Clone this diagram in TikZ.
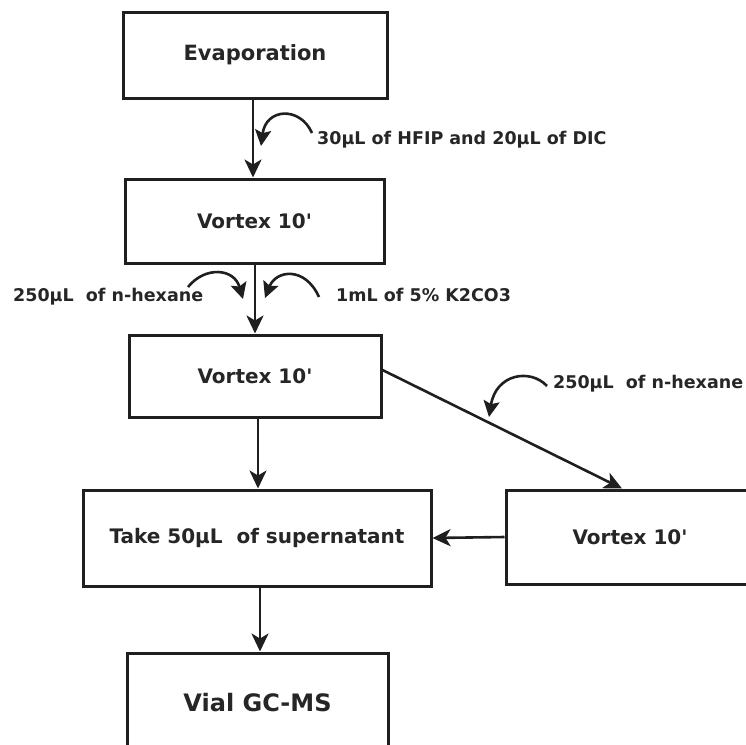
\documentclass[tikz,border=0pt]{standalone}
\usepackage{fontspec}
\setmainfont{DejaVu Sans}
\usetikzlibrary{arrows.meta}

\begin{document}
\begin{tikzpicture}[x=1pt,y=-1pt,
  ink/.style={draw=black!88},
  stepbox/.style={ink,line width=3pt,fill=white,inner sep=0pt,
    font=\fontsize{20}{24}\selectfont\bfseries,text=black!85},
  arr/.style={ink,line width=2.6pt,-{Stealth[length=18pt,width=17pt,inset=5pt]}},
  curl/.style={ink,line width=2.6pt,-{Stealth[length=16pt,width=16pt,inset=3pt]}},
  reagent/.style={inner sep=0pt,font=\fontsize{17.5}{21}\selectfont\bfseries,text=black!85}
]
\useasboundingbox (0,0) rectangle (746,744);
\clip (0,0) rectangle (746,744);

% process steps
\node[stepbox,minimum width=264pt,minimum height=86pt] (ev) at (255,55) {\fontsize{21}{25}\selectfont Evaporation};
\node[stepbox,minimum width=259pt,minimum height=84pt] (v1) at (254.5,221) {Vortex 10\textquotesingle};
\node[stepbox,minimum width=252pt,minimum height=82pt] (v2) at (255,376) {Vortex 10\textquotesingle};
\node[stepbox,minimum width=348pt,minimum height=96pt] (take) at (257,538) {Take 50µL\ \ of supernatant};
\node[stepbox,minimum width=248pt,minimum height=94pt] (v3) at (630,537) {Vortex 10\textquotesingle};
\node[stepbox,minimum width=261pt,minimum height=100pt] (vial) at (257.5,703) {\fontsize{24}{28}\selectfont Vial GC-MS};

% main flow
\draw[arr] ([xshift=-2pt]ev.south) -- ([xshift=-2pt]ev.south |- v1.north);
\draw[arr] ([xshift=0.5pt]v1.south) -- ([xshift=0.5pt]v1.south |- v2.north);
\draw[arr] ([xshift=3pt]v2.south) -- ([xshift=3pt]v2.south |- take.north);
\draw[arr] ([xshift=3pt]take.south) -- ([xshift=3pt]take.south |- vial.north);
\draw[arr] ([yshift=6pt]v2.east) -- ([xshift=-8pt]v3.north);
\draw[arr] (v3.west) -- (take.east);

% reagent additions
\node[reagent,anchor=base west] (r1) at (317,144) {30µL of HFIP and 20µL of DIC};
\node[reagent,anchor=base west] (r2) at (13,301) {250µL\ \ of n-hexane};
\node[reagent,anchor=base west] (r3) at (336,301) {1mL of 5\% K2CO3};
\node[reagent,anchor=base west] (r4) at (553,388) {250µL\ \ of n-hexane};

\coordinate (c1s) at (312,133);
\coordinate (c1e) at (261,146);
\coordinate (c2s) at (188,287);
\coordinate (c2e) at (243,299);
\coordinate (c3s) at (319,297);
\coordinate (c3e) at (265,298);
\coordinate (c4s) at (547,386);
\coordinate (c4e) at (489,417);

\draw[curl] (c1s) .. controls (300,106) and (266,108) .. (c1e);
\draw[curl] (c2s) .. controls (205,266) and (234,268) .. (c2e);
\draw[curl] (c3s) .. controls (305,266) and (276,270) .. (c3e);
\draw[curl] (c4s) .. controls (530,368) and (496,374) .. (c4e);
\end{tikzpicture}
\end{document}
